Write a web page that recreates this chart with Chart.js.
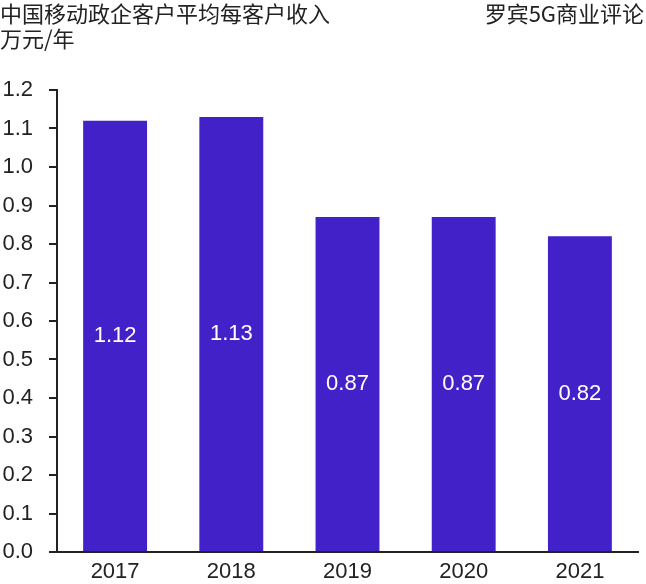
<!DOCTYPE html>
<html><head><meta charset="utf-8">
<script src="https://cdn.jsdelivr.net/npm/chart.js@4"></script>
<style>
html,body{margin:0;padding:0;background:#fff;}
#wrap{position:relative;width:646px;height:584px;}
#c{position:absolute;left:0;top:0;}
.t{position:absolute;font-family:"Noto Sans CJK SC","Liberation Sans",sans-serif;font-size:22px;color:#222;line-height:26px;white-space:nowrap;}
</style></head>
<body>
<div id="wrap">
<canvas id="c" width="646" height="584"></canvas>
<div class="t" style="left:0;top:-1px;">中国移动政企客户平均每客户收入</div>
<div class="t" style="left:0;top:24px;">万元/年</div>
<div class="t" style="right:2px;top:-1px;">罗宾5G商业评论</div>
</div>
<script>
const categories = ['2017','2018','2019','2020','2021'];
const revenue = [1.12, 1.13, 0.87, 0.87, 0.82];
const yTicks = [0,0.1,0.2,0.3,0.4,0.5,0.6,0.7,0.8,0.9,1.0,1.1,1.2];

const labelPlugin = {
  id:'labels',
  afterDatasetsDraw(chart){
    const ctx = chart.ctx;
    const meta = chart.getDatasetMeta(0);
    ctx.save();
    ctx.fillStyle = '#fff';
    ctx.font = '22px "Liberation Sans", Arial, sans-serif';
    ctx.textAlign = 'center';
    ctx.textBaseline = 'middle';
    meta.data.forEach((bar,i)=>{
      const mid = (bar.y + bar.base)/2;
      ctx.fillText(revenue[i].toFixed(2), bar.x, mid);
    });
    ctx.restore();
  }
};

new Chart(document.getElementById('c'), {
  type:'bar',
  data:{labels:categories, datasets:[{data:revenue, backgroundColor:'#4222C8', barPercentage:0.55, categoryPercentage:1.0}]},
  options:{
    responsive:false, animation:false,
    layout:{padding:{top:90,left:2,right:8,bottom:0}},
    plugins:{legend:{display:false},tooltip:{enabled:false}},
    scales:{
      y:{min:0,max:1.2,
        afterBuildTicks(s){ s.ticks = yTicks.map(v=>({value:v})); },
        afterFit(s){ s.width = 55; },
        ticks:{color:'#222',font:{family:'"Liberation Sans", Arial, sans-serif',size:22},padding:16,callback:v=>Number(v).toFixed(1)},
        grid:{drawOnChartArea:false,drawTicks:true,tickLength:8,color:'#222',lineWidth:2},
        border:{display:true,color:'#222',width:2}
      },
      x:{
        afterFit(s){ s.height = 32; },
        ticks:{color:'#222',font:{family:'"Liberation Sans", Arial, sans-serif',size:22},padding:7},
        grid:{display:false,drawTicks:false},
        border:{display:true,color:'#222',width:2}
      }
    }
  },
  plugins:[labelPlugin]
});
</script>
</body></html>
